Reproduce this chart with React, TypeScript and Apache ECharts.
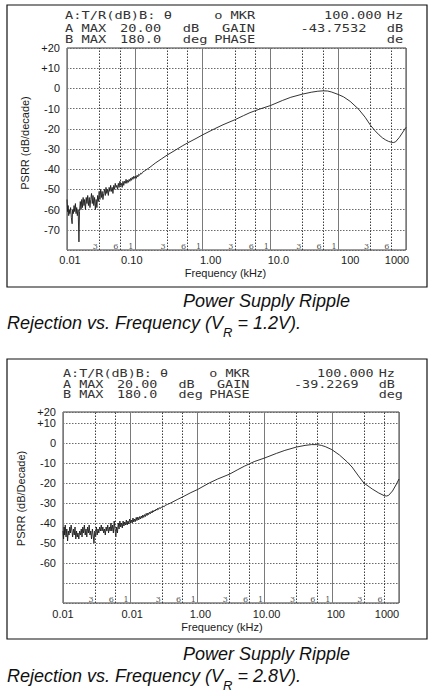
import React, { useEffect, useRef } from 'react';
import * as echarts from 'echarts';

// PSRR traces (frequency in kHz, PSRR in dB) as plotted by the network analyser
const psrrVr12: [number, number][] = [
  [0.0100, -55], [0.0102, -61], [0.0104, -58], [0.0106, -63], [0.0108, -60], [0.0110, -62], [0.0113, -59],
  [0.0116, -64], [0.0119, -67], [0.0121, -60], [0.0124, -62], [0.0127, -58], [0.0130, -61], [0.0133, -57],
  [0.0136, -62], [0.0139, -59], [0.0142, -63], [0.0146, -60], [0.0150, -76], [0.0153, -61], [0.0157, -56],
  [0.0161, -60], [0.0165, -55], [0.0169, -59], [0.0173, -54], [0.0178, -58], [0.0182, -55], [0.0187, -60],
  [0.0192, -54], [0.0197, -57], [0.0202, -53], [0.0207, -58], [0.0213, -54], [0.0218, -59], [0.0224, -55],
  [0.0230, -52], [0.0236, -57], [0.0242, -53], [0.0248, -58], [0.0255, -54], [0.0262, -60], [0.0269, -55],
  [0.0276, -59], [0.0283, -53], [0.0290, -56], [0.0298, -51], [0.0306, -55], [0.0314, -50], [0.0322, -54],
  [0.0330, -51], [0.0339, -55], [0.0348, -52], [0.0357, -50], [0.0367, -53], [0.0376, -49], [0.0386, -52],
  [0.0397, -50], [0.0407, -53], [0.0418, -49], [0.0429, -51], [0.0440, -48], [0.0452, -51], [0.0464, -49],
  [0.0476, -52], [0.0489, -48], [0.0502, -50], [0.0515, -47], [0.0529, -49], [0.0543, -48], [0.0557, -50],
  [0.0572, -47], [0.0587, -49], [0.0603, -46], [0.0619, -48], [0.0635, -47], [0.0652, -49], [0.0669, -46],
  [0.0687, -48], [0.0705, -46], [0.0724, -47], [0.0743, -45], [0.0763, -47], [0.0783, -45.5], [0.0804, -46.5],
  [0.0825, -45], [0.0847, -46], [0.0870, -44.5], [0.0893, -45.5], [0.0917, -44], [0.0941, -45], [0.0966, -43.5],
  [0.0990, -44.5], [0.102, -43.5], [0.105, -44.5], [0.108, -43], [0.111, -43.8], [0.114, -42.5], [0.118, -43],
  [0.122, -42], [0.126, -42.3], [0.130, -41.5], [0.14, -40.8], [0.16, -39.5], [0.18, -38.2], [0.2, -37],
  [0.25, -34.8], [0.3, -33], [0.4, -30.5], [0.5, -28.5], [0.6, -27], [0.8, -24.8], [1, -23], [1.5, -20],
  [2, -18], [3, -15.5], [4, -13.5], [5, -12], [7, -10.2], [10, -8.5], [15, -6], [20, -4.4], [30, -2.8],
  [40, -1.9], [50, -1.4], [60, -1.2], [70, -1.3], [80, -1.8], [100, -3], [120, -4.2], [150, -6.4],
  [200, -10.3], [250, -14.3], [300, -18.3], [350, -21], [400, -23], [450, -24.5], [500, -25.5], [550, -26.2],
  [600, -26.6], [650, -26.8], [700, -26.5], [800, -24.2], [900, -21.6], [1000, -19.3],
];

const psrrVr28: [number, number][] = [
  [0.0100, -44], [0.0102, -48], [0.0104, -42], [0.0106, -46], [0.0108, -41], [0.0111, -47], [0.0114, -43],
  [0.0117, -49], [0.0120, -44], [0.0123, -46], [0.0126, -42], [0.0129, -45], [0.0132, -41], [0.0136, -44],
  [0.0139, -47], [0.0143, -43], [0.0147, -46], [0.0151, -42], [0.0155, -48], [0.0159, -44], [0.0163, -47],
  [0.0167, -45], [0.0172, -48], [0.0177, -44], [0.0182, -46], [0.0187, -43], [0.0192, -47], [0.0197, -42],
  [0.0202, -45], [0.0208, -41], [0.0214, -46], [0.0220, -43], [0.0226, -47], [0.0232, -42], [0.0239, -45],
  [0.0245, -41], [0.0252, -46], [0.0259, -44], [0.0266, -48], [0.0274, -43], [0.0281, -46], [0.0289, -50],
  [0.0297, -44], [0.0306, -47], [0.0314, -42], [0.0323, -46], [0.0332, -43], [0.0341, -45], [0.0351, -42],
  [0.0361, -44], [0.0371, -41], [0.0381, -44], [0.0392, -42], [0.0403, -45], [0.0414, -43], [0.0426, -46],
  [0.0438, -42], [0.0450, -44], [0.0463, -41], [0.0476, -45], [0.0489, -42], [0.0503, -44], [0.0517, -40],
  [0.0532, -44], [0.0547, -41], [0.0562, -45], [0.0578, -39], [0.0594, -43], [0.0611, -47], [0.0628, -42],
  [0.0646, -45], [0.0664, -40], [0.0683, -43], [0.0702, -39], [0.0722, -42], [0.0742, -40], [0.0763, -42.5],
  [0.0784, -39], [0.0806, -41.5], [0.0829, -39.5], [0.0852, -41], [0.0876, -38.5], [0.0901, -41], [0.0926, -39],
  [0.0952, -40.5], [0.0979, -38], [0.101, -40], [0.104, -38.5], [0.107, -40], [0.110, -37.5], [0.113, -39.5],
  [0.116, -38], [0.119, -39.3], [0.123, -37.2], [0.126, -38.8], [0.130, -37], [0.134, -38.5], [0.138, -36.8],
  [0.142, -38], [0.146, -36.5], [0.150, -37.6], [0.154, -36], [0.159, -37.2], [0.163, -35.8], [0.168, -36.8],
  [0.173, -35.2], [0.178, -36.3], [0.183, -35], [0.188, -35.8], [0.193, -34.6], [0.199, -35.4], [0.205, -34.2],
  [0.211, -35], [0.217, -33.8], [0.223, -34.5], [0.229, -33.5], [0.236, -34], [0.243, -33], [0.250, -33.6],
  [0.257, -32.6], [0.264, -33.2], [0.272, -32.3], [0.280, -32.8], [0.290, -32], [0.300, -32.3], [0.310, -31.6],
  [0.320, -31.9], [0.330, -31.2], [0.36, -30.7], [0.4, -30], [0.5, -28.3], [0.6, -27], [0.8, -24.8],
  [1, -23.3], [1.5, -20], [2, -18], [3, -15.6], [4, -13.3], [5, -11.6], [7, -9.3], [10, -7.5], [15, -5.2],
  [20, -3.7], [30, -2], [40, -1.2], [50, -0.8], [60, -0.8], [70, -1.2], [80, -1.8], [100, -3.3], [130, -6],
  [170, -9.5], [200, -12], [250, -16.5], [300, -20], [400, -23], [500, -25], [600, -26.3], [650, -26.5],
  [700, -26.2], [800, -24], [900, -21], [1000, -18],
];

// Frequency axis legends (one per decade, 0.01 kHz .. 1000 kHz)
const xTickLabelsVr12 = ['0.01', '0.10', '1.00', '10.0', '100', '1000'];
const xTickLabelsVr28 = ['0.01', '0.01', '1.00', '10.00', '100', '1000'];

// Analyser graticule: dotted 3x / 6x lines and the small digits printed at their foot
const dottedGridFreqs = [0.03, 0.06, 0.3, 0.6, 3, 6, 30, 60, 300, 600];
const gridDigitFreqs = [0.03, 0.06, 0.1, 0.3, 0.6, 1, 3, 6, 10, 30, 60, 100, 300, 600];
const gridDigitText = ['3', '6', '1', '3', '6', '1', '3', '6', '1', '3', '6', '1', '3', '6'];

// Analyser screen header rows
const headerVr12 = [
  ['A:T/R(dB)B: θ', 'o MKR', '100.000', 'Hz'],
  ['A MAX', '20.00', 'dB', 'GAIN', '-43.7532', 'dB'],
  ['B MAX', '180.0', 'deg', 'PHASE', 'de'],
];
const headerVr28 = [
  ['A:T/R(dB)B: θ', 'o MKR', '100.000', 'Hz'],
  ['A MAX', '20.00', 'dB', 'GAIN', '-39.2269', 'dB'],
  ['B MAX', '180.0', 'deg', 'PHASE', 'deg'],
];

const captionTitle = 'Power Supply Ripple';
const captionVr12 = ['Rejection vs. Frequency (V', 'R', ' = 1.2V).'];
const captionVr28 = ['Rejection vs. Frequency (V', 'R', ' = 2.8V).'];

const SANS = '"Liberation Sans", Arial, Helvetica, sans-serif';
const MONO = '"DejaVu Sans Mono", "Liberation Mono", monospace';

// monospace columns of the header fields
const headerCols = [
  [0, 19, 33, 41],
  [0, 7, 15, 20, 30, 41],
  [0, 7, 15, 19, 41],
];

type Panel = {
  data: [number, number][];
  xLabels: string[];
  xShift: number[];
  yName: string;
  yMax: number;
  hideY: number[];
  grid: { left: number; top: number; width: number; height: number };
  yNameGap: number;
  yNameLift: number;
  xNameGap: number;
  xNameShift: number;
  xLabelMargin: number;
  box: { x: number; y: number; w: number; h: number };
  header: string[][];
  headerX: number;
  headerAdv: number;
  headerRows: number[];
  caption: string[];
  captionY: number[];
};

const panels: Panel[] = [
  {
    data: psrrVr12,
    xLabels: xTickLabelsVr12,
    xShift: [3, -3, 8, 8, 12, -9],
    yName: 'PSRR (dB/decade)',
    yMax: 20,
    hideY: [-80],
    grid: { left: 67, top: 48, width: 339, height: 202 },
    yNameGap: 28,
    yNameLift: 6,
    xNameGap: 17,
    xNameShift: -11,
    xLabelMargin: 4,
    box: { x: 7, y: 5, w: 420, h: 282 },
    header: headerVr12,
    headerX: 65,
    headerAdv: 7.85,
    headerRows: [16, 28.5, 40],
    caption: captionVr12,
    captionY: [301, 314],
  },
  {
    data: psrrVr28,
    xLabels: xTickLabelsVr28,
    xShift: [0, 2, 3, 2, 4, -12],
    yName: 'PSRR (dB/Decade)',
    yMax: 15.5,
    hideY: [-80, -70],
    grid: { left: 63, top: 412, width: 336, height: 191 },
    yNameGap: 26,
    yNameLift: 9,
    xNameGap: 18,
    xNameShift: -9,
    xLabelMargin: 5,
    box: { x: 7, y: 359, w: 420, h: 280 },
    header: headerVr28,
    headerX: 63,
    headerAdv: 7.7,
    headerRows: [374, 384.5, 395],
    caption: captionVr28,
    captionY: [654, 667],
  },
];

function buildOption() {
  const grids: any[] = [];
  const xAxes: any[] = [];
  const yAxes: any[] = [];
  const series: any[] = [];
  const graphics: any[] = [];

  panels.forEach((p, i) => {
    grids.push({
      ...p.grid,
      show: true,
      backgroundColor: 'transparent',
      borderColor: '#3a3a3a',
      borderWidth: 1,
    });

    const rich: Record<string, any> = {};
    p.xShift.forEach((s, k) => {
      rich['s' + k] = {
        fontSize: 11,
        fontFamily: SANS,
        color: '#1a1a1a',
        padding: s >= 0 ? [0, 0, 0, 2 * s] : [0, -2 * s, 0, 0],
      };
    });

    xAxes.push({
      type: 'log',
      logBase: 10,
      gridIndex: i,
      min: 0.01,
      max: 1000,
      name: 'Frequency (kHz)',
      nameLocation: 'middle',
      nameGap: p.xNameGap,
      nameTextStyle: {
        fontSize: 11,
        fontFamily: SANS,
        color: '#1a1a1a',
        padding: p.xNameShift < 0 ? [0, -2 * p.xNameShift, 0, 0] : [0, 0, 0, 2 * p.xNameShift],
      },
      axisLine: { show: false },
      axisTick: { show: false },
      axisLabel: {
        margin: p.xLabelMargin,
        formatter: (v: number) => {
          const k = Math.round(Math.log10(v)) + 2;
          return `{s${k}|${p.xLabels[k]}}`;
        },
        rich,
      },
      splitLine: { show: true, lineStyle: { color: '#7a7a7a', width: 1, type: 'solid' } },
    });

    yAxes.push({
      type: 'value',
      gridIndex: i,
      min: -80,
      max: p.yMax,
      interval: 10,
      name: p.yName,
      nameLocation: 'middle',
      nameGap: p.yNameGap,
      nameTextStyle: {
        fontSize: 11,
        fontFamily: SANS,
        color: '#1a1a1a',
        padding: [0, 0, 0, 2 * p.yNameLift],
      },
      axisLine: { show: false },
      axisTick: { show: false },
      axisLabel: {
        margin: 7,
        fontSize: 11,
        fontFamily: SANS,
        color: '#1a1a1a',
        showMaxLabel: true,
        formatter: (v: number) => {
          if (p.hideY.includes(v)) return '';
          // the trimmed top edge of the screen keeps its +20 legend
          if (v > 10) return '+20';
          return v > 0 ? '+' + v : String(v);
        },
      },
      splitLine: { show: true, lineStyle: { color: '#6a6a6a', width: 1, type: [1.5, 1.5] } },
    });

    series.push({
      type: 'line',
      xAxisIndex: i,
      yAxisIndex: i,
      data: p.data,
      showSymbol: false,
      symbol: 'none',
      lineStyle: { color: '#1c1c1c', width: 0.9 },
      z: 4,
      markLine: {
        silent: true,
        symbol: ['none', 'none'],
        label: { show: false },
        lineStyle: { type: [1.5, 1.5], color: '#3c3c3c', width: 1 },
        data: dottedGridFreqs.map((f) => ({ xAxis: f })),
      },
    });

    series.push({
      type: 'scatter',
      xAxisIndex: i,
      yAxisIndex: i,
      data: gridDigitFreqs.map((f) => [f, -80]),
      symbolSize: 1,
      itemStyle: { color: 'rgba(0,0,0,0)' },
      silent: true,
      z: 3,
      label: {
        show: true,
        position: 'left',
        distance: 1,
        offset: [0, -4],
        fontSize: 8,
        fontFamily: '"DejaVu Serif", serif',
        color: '#222222',
        formatter: (prm: any) => gridDigitText[prm.dataIndex],
      },
    });

    // outer frame
    graphics.push({
      type: 'rect',
      shape: { x: p.box.x, y: p.box.y, width: p.box.w, height: p.box.h },
      style: { fill: 'none', stroke: '#111', lineWidth: 1.2 },
      silent: true,
    });

    // analyser header
    const scale = p.headerAdv / 6.02;
    p.header.forEach((row, r) => {
      row.forEach((txt, c) => {
        graphics.push({
          type: 'text',
          x: p.headerX + headerCols[r][c] * p.headerAdv,
          y: p.headerRows[r],
          scaleX: scale,
          silent: true,
          style: {
            text: txt,
            fontSize: 10.5,
            fontFamily: MONO,
            fill: '#333333',
            align: 'left',
            verticalAlign: 'middle',
          },
        });
      });
    });

    // caption
    graphics.push({
      type: 'text',
      x: 183,
      y: p.captionY[0],
      silent: true,
      style: {
        text: captionTitle,
        fontSize: 18,
        fontStyle: 'italic',
        fontFamily: SANS,
        fill: '#111',
        align: 'left',
        verticalAlign: 'middle',
      },
    });
    graphics.push({
      type: 'text',
      x: 7,
      y: p.captionY[1],
      silent: true,
      style: {
        text: `{n|${p.caption[0]}}{s|${p.caption[1]}}{n|${p.caption[2]}}`,
        align: 'left',
        verticalAlign: 'top',
        rich: {
          n: {
            fontSize: 18,
            fontStyle: 'italic',
            fontFamily: SANS,
            fill: '#111',
            lineHeight: 22,
            verticalAlign: 'top',
          },
          s: {
            fontSize: 13,
            fontStyle: 'italic',
            fontFamily: SANS,
            fill: '#111',
            lineHeight: 13,
            verticalAlign: 'top',
            padding: [12, 0, 0, 0],
          },
        },
      },
    });
  });

  return {
    animation: false,
    backgroundColor: '#ffffff',
    grid: grids,
    xAxis: xAxes,
    yAxis: yAxes,
    series,
    graphic: graphics,
  };
}

export default function App() {
  const ref = useRef<HTMLDivElement>(null);
  useEffect(() => {
    if (!ref.current) return;
    const chart = echarts.init(ref.current, null, { renderer: 'svg' });
    chart.setOption(buildOption() as any);
    return () => chart.dispose();
  }, []);
  return (
    <div
      ref={ref}
      style={{ position: 'absolute', left: 0, top: 0, width: 439, height: 696, background: '#fff' }}
    />
  );
}
